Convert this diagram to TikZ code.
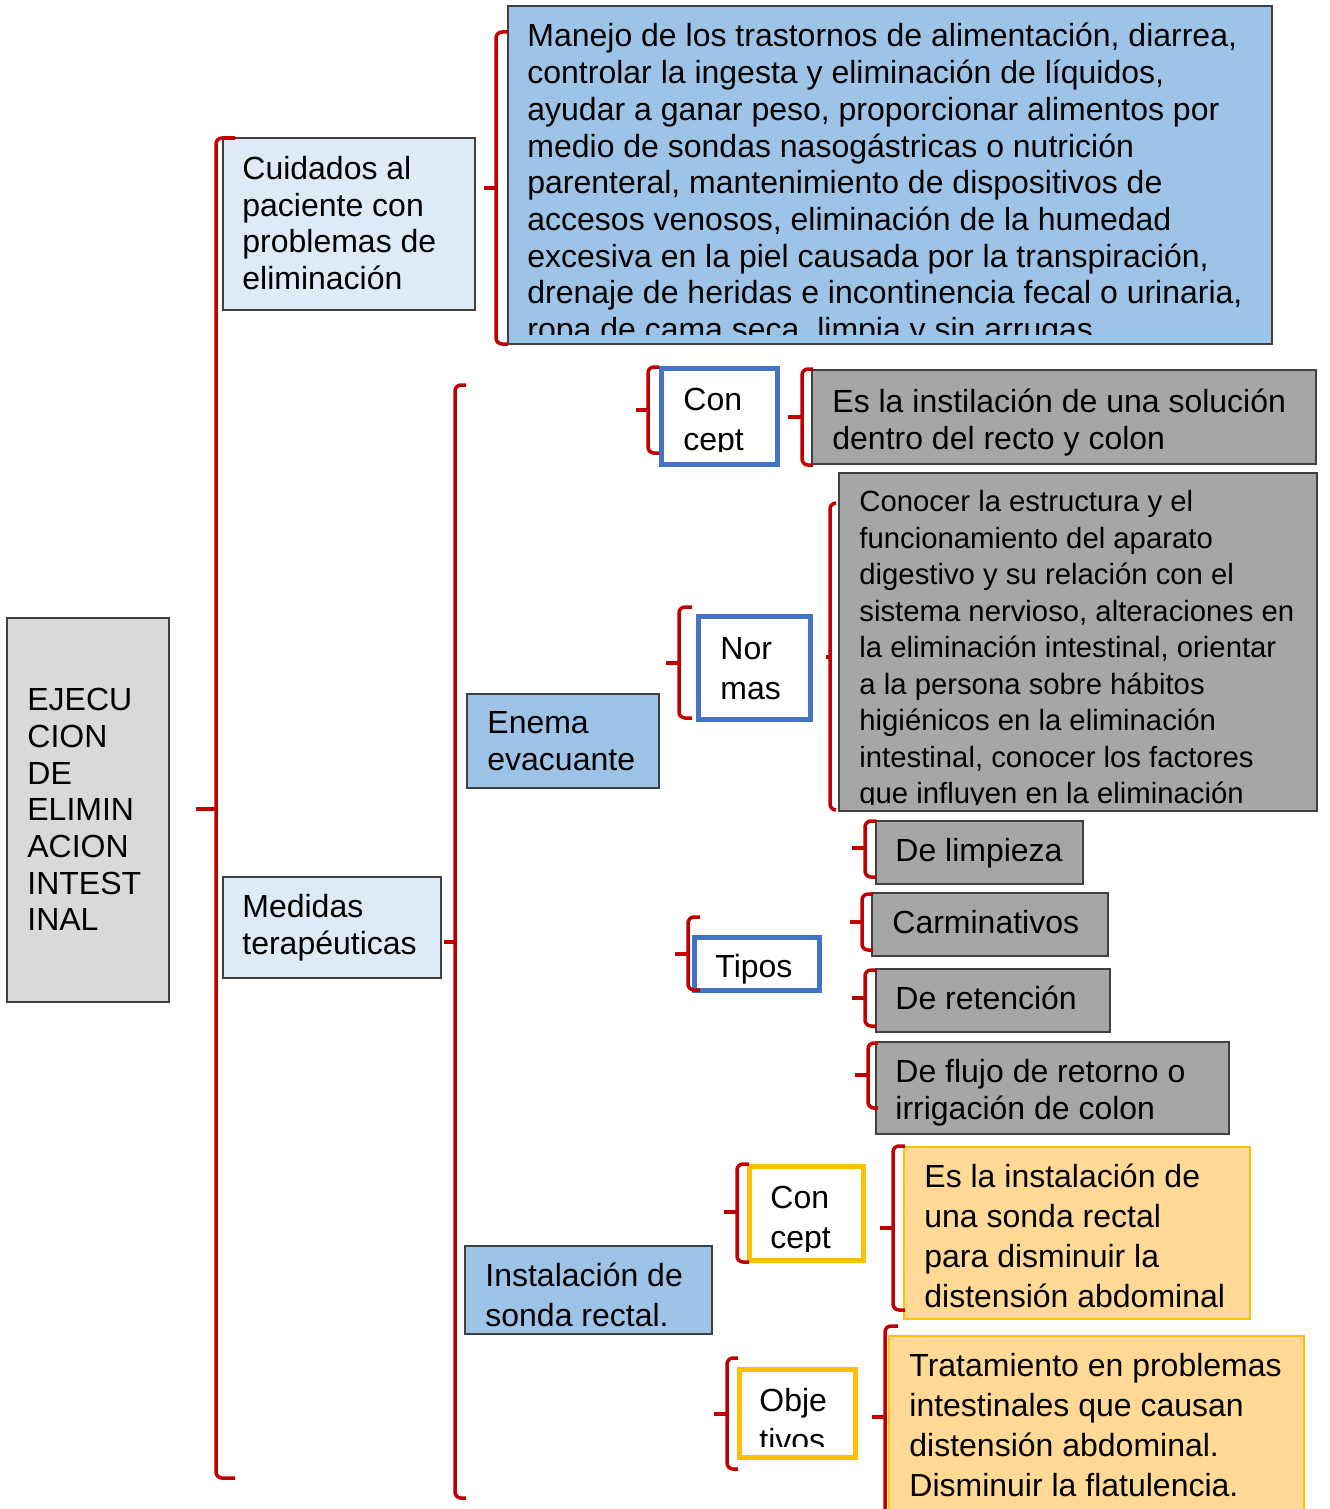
\documentclass[tikz,border=0pt]{standalone}
\usepackage{fontspec}
\setmainfont{Liberation Sans}
\usetikzlibrary{fit}

\definecolor{rootgray}{HTML}{D9D9D9}
\definecolor{paleblue}{HTML}{DEEBF7}
\definecolor{midblue}{HTML}{9DC3E6}
\definecolor{leafgray}{HTML}{A6A6A6}
\definecolor{frameblue}{HTML}{4472C4}
\definecolor{frameyellow}{HTML}{FFC000}
\definecolor{leaforange}{HTML}{FFD995}
\definecolor{bracered}{HTML}{C00000}
\definecolor{boxline}{HTML}{404040}

\tikzset{
  box/.style={draw=boxline, line width=0.75pt, inner sep=0pt},
  rootbox/.style={box, fill=rootgray},
  palebox/.style={box, fill=paleblue},
  midbox/.style={box, fill=midblue},
  graybox/.style={box, fill=leafgray},
  orangebox/.style={box, draw=frameyellow, fill=leaforange},
  bluetag/.style={draw=frameblue, line width=2.5pt, fill=white, inner sep=0pt},
  yellowtag/.style={draw=frameyellow, line width=2.5pt, fill=white, inner sep=0pt},
  txt/.style={inner sep=0pt, anchor=north west, align=left, font=\fontsize{16}{18.35}\selectfont},
  wide/.style={font=\fontsize{16}{20}\selectfont},
  small/.style={font=\fontsize{14.65}{18.25}\selectfont},
  brace/.style={draw=bracered, line width=1.75pt, rounded corners=3pt},
}
\newcommand{\brk}[6]{%
  \draw[brace] (#6,#2) -- (#1,#2) -- (#1,#3) -- (#6,#3);
  \draw[brace, sharp corners] (#1,#4) -- (#5,#4);}

\begin{document}
\begin{tikzpicture}[x=0.5pt, y=-0.5pt]
\useasboundingbox (0,0) rectangle (1329,1509);

\node[rootbox, fit={(7,618) (169,1002)}] (root) {};
\node[palebox, fit={(223,138) (475,310)}] (cuidados) {};
\node[midbox, fit={(508,6) (1272,344)}] (manejo) {};
\node[palebox, fit={(223,877) (441,978)}] (medidas) {};
\node[midbox, fit={(467,694) (659,788)}] (enema) {};
\node[midbox, fit={(465,1246) (712,1334)}] (sonda) {};
\node[bluetag, fit={(661,368) (777,464)}] (concepto) {};
\node[graybox, fit={(812,370) (1316,464)}] (instila) {};
\node[bluetag, fit={(698,616) (810,719)}] (normas) {};
\node[graybox, fit={(839,473) (1317,811)}] (conocer) {};
\node[bluetag, fit={(694,937) (819,990)}] (tipos) {};
\node[graybox, fit={(876,821) (1083,884)}] (limpieza) {};
\node[graybox, fit={(872,893) (1108,956)}] (carmin) {};
\node[graybox, fit={(876,969) (1110,1032)}] (retencion) {};
\node[graybox, fit={(876,1042) (1229,1134)}] (flujo) {};
\node[yellowtag, fit={(749,1166) (863,1260)}] (conceptoS) {};
\node[orangebox, fit={(904,1147) (1250,1319)}] (instala) {};
\node[yellowtag, fit={(739,1369) (855,1457)}] (objetivos) {};
\node[orangebox, fit={(889,1336) (1304,1514)}] (tratamiento) {};

\node[txt] (rootT) at (27,688) {EJECU\\CION\\DE\\ELIMIN\\ACION\\INTEST\\INAL};
\node[txt] (cuidadosT) at (242,156) {Cuidados al\\paciente con\\problemas de\\eliminación};
\begin{scope}
\clip (508,7) rectangle (1272,334);
\node[txt] (manejoT) at (527,23) {Manejo de los trastornos de alimentación, diarrea,\\controlar la ingesta y eliminación de líquidos,\\ayudar a ganar peso, proporcionar alimentos por\\medio de sondas nasogástricas o nutrición\\parenteral, mantenimiento de dispositivos de\\accesos venosos, eliminación de la humedad\\excesiva en la piel causada por la transpiración,\\drenaje de heridas e incontinencia fecal o urinaria,\\ropa de cama seca, limpia y sin arrugas};
\end{scope}
\node[txt] (medidasT) at (242,894) {Medidas\\terapéuticas};
\node[txt] (enemaT) at (487,711) {Enema\\evacuante};
\begin{scope}
\clip (466,1247) rectangle (712,1326);
\node[txt, wide] (sondaT) at (485,1263) {Instalación de\\sonda rectal.};
\end{scope}
\begin{scope}
\clip (664,371) rectangle (774,451);
\node[txt, wide] (conceptoT) at (683,388) {Con\\cept};
\end{scope}
\node[txt] (instilaT) at (832,389) {Es la instilación de una solución\\dentro del recto y colon};
\node[txt, wide] (normasT) at (720,637) {Nor\\mas};
\begin{scope}
\clip (840,474) rectangle (1317,804);
\node[txt, small] (conocerT) at (859,490) {Conocer la estructura y el\\funcionamiento del aparato\\digestivo y su relación con el\\sistema nervioso, alteraciones en\\la eliminación intestinal, orientar\\a la persona sobre hábitos\\higiénicos en la eliminación\\intestinal, conocer los factores\\que influyen en la eliminación};
\end{scope}
\node[txt] (tiposT) at (715,954) {Tipos};
\node[txt] (limpiezaT) at (895,838) {De limpieza};
\node[txt] (carminT) at (892,910) {Carminativos};
\node[txt] (retencionT) at (895,986) {De retención};
\node[txt] (flujoT) at (895,1059) {De flujo de retorno o\\irrigación de colon};
\begin{scope}
\clip (752,1169) rectangle (860,1251);
\node[txt, wide] (conceptoST) at (770,1186) {Con\\cept};
\end{scope}
\node[txt, wide] (instalaT) at (924,1164) {Es la instalación de\\una sonda rectal\\para disminuir la\\distensión abdominal};
\begin{scope}
\clip (742,1372) rectangle (852,1446);
\node[txt, wide] (objetivosT) at (759,1388) {Obje\\tivos};
\end{scope}
\node[txt, wide] (tratamientoT) at (909,1353) {Tratamiento en problemas\\intestinales que causan\\distensión abdominal.\\Disminuir la flatulencia.};

\brk{216}{138}{1478}{809}{196}{235}
\brk{496}{32}{344}{188}{484}{508}
\brk{455}{385}{1498}{942}{444}{466}
\brk{648}{367}{453}{410}{636}{659}
\brk{802}{369}{465}{417}{788}{813}
\brk{679}{607}{718}{663}{666}{692}
\brk{830}{503}{810}{657}{826}{836}
\brk{688}{917}{990}{954}{675}{700}
\brk{865}{821}{877}{848}{852}{876}
\brk{862}{894}{950}{922}{850}{873}
\brk{865}{970}{1026}{998}{852}{876}
\brk{868}{1043}{1108}{1075}{855}{878}
\brk{737}{1164}{1262}{1212}{724}{749}
\brk{893}{1146}{1310}{1228}{880}{905}
\brk{727}{1358}{1469}{1414}{714}{738}
\brk{885}{1326}{1530}{1417}{872}{898}
\end{tikzpicture}
\end{document}
